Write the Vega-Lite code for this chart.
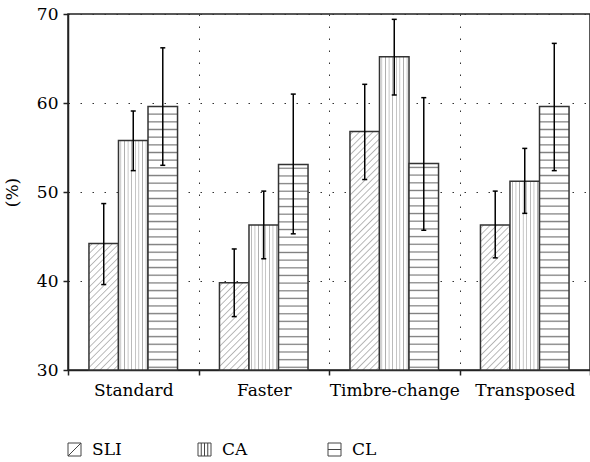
{
  "$schema": "https://vega.github.io/schema/vega-lite/v6.json",
  "width": 522,
  "height": 356,
  "autosize": {"type": "none"},
  "padding": {"left": 68, "top": 14, "right": 0, "bottom": 92},
  "config": {
    "view": {"stroke": "#222", "strokeWidth": 1.5},
    "font": "DejaVu Serif"
  },
  "data": {
    "values": [
      {"cond": "Standard", "group": "SLI", "mean": 44.2, "lo": 39.6, "hi": 48.7},
      {"cond": "Standard", "group": "CA", "mean": 55.8, "lo": 52.4, "hi": 59.1},
      {"cond": "Standard", "group": "CL", "mean": 59.6, "lo": 53.0, "hi": 66.2},
      {"cond": "Faster", "group": "SLI", "mean": 39.8, "lo": 36.0, "hi": 43.6},
      {"cond": "Faster", "group": "CA", "mean": 46.3, "lo": 42.5, "hi": 50.1},
      {"cond": "Faster", "group": "CL", "mean": 53.1, "lo": 45.3, "hi": 61.0},
      {"cond": "Timbre-change", "group": "SLI", "mean": 56.8, "lo": 51.4, "hi": 62.1},
      {"cond": "Timbre-change", "group": "CA", "mean": 65.2, "lo": 60.9, "hi": 69.4},
      {"cond": "Timbre-change", "group": "CL", "mean": 53.2, "lo": 45.7, "hi": 60.6},
      {"cond": "Transposed", "group": "SLI", "mean": 46.3, "lo": 42.6, "hi": 50.1},
      {"cond": "Transposed", "group": "CA", "mean": 51.2, "lo": 47.6, "hi": 54.9},
      {"cond": "Transposed", "group": "CL", "mean": 59.6, "lo": 52.4, "hi": 66.7}
    ]
  },
  "encoding": {
    "x": {
      "field": "cond",
      "type": "nominal",
      "sort": ["Standard", "Faster", "Timbre-change", "Transposed"],
      "scale": {"paddingInner": 0, "paddingOuter": 0},
      "axis": {
        "title": null,
        "labelAngle": 0,
        "tickBand": "extent",
        "labelFont": "DejaVu Serif",
        "labelFontSize": 17,
        "labelColor": "black",
        "labelPadding": 7,
        "tickSize": 5,
        "tickColor": "#222",
        "tickWidth": 1.5,
        "domainColor": "#222",
        "domainWidth": 1.5,
        "grid": true,
        "gridColor": "#333",
        "gridDash": [1.5, 10.5],
        "gridWidth": 1
      }
    },
    "xOffset": {
      "field": "group",
      "type": "nominal",
      "scale": {"domain": ["SLI", "CA", "CL"], "paddingOuter": 0.71, "paddingInner": 0}
    }
  },
  "layer": [
    {
      "mark": {"type": "bar", "stroke": "#333", "strokeWidth": 1.5},
      "encoding": {
        "y": {
          "field": "mean",
          "type": "quantitative",
          "scale": {"domain": [30, 70], "nice": false, "zero": false},
          "axis": {
            "values": [30, 40, 50, 60, 70],
            "title": "(%)",
            "titleFont": "DejaVu Serif",
            "titleFontSize": 17,
            "titleFontWeight": "normal",
            "titleColor": "black",
            "titlePadding": 15,
            "labelFont": "DejaVu Serif",
            "labelFontSize": 17,
            "labelColor": "black",
            "labelPadding": 5,
            "tickSize": 5,
            "tickColor": "#222",
            "tickWidth": 1.5,
            "domainColor": "#222",
            "domainWidth": 1.5,
            "grid": true,
            "gridColor": "#333",
            "gridDash": [1.5, 10.5],
            "gridWidth": 1
          }
        },
        "y2": {"datum": 30},
        "fill": {
          "field": "group",
          "type": "nominal",
          "scale": {"domain": ["SLI", "CA", "CL"], "range": ["white", "white", "white"]},
          "legend": {
            "orient": "none",
            "legendX": -2,
            "legendY": 427,
            "direction": "horizontal",
            "columns": 3,
            "gridAlign": "all",
            "columnPadding": 74,
            "padding": 0,
            "title": null,
            "symbolType": "square",
            "symbolSize": 169,
            "symbolStrokeColor": "#444",
            "symbolStrokeWidth": 1,
            "symbolOpacity": 1,
            "labelFont": "DejaVu Serif",
            "labelFontSize": 17,
            "labelColor": "black",
            "labelOffset": 9,
            "encode": {
              "symbols": {
                "update": {
                  "shape": {"signal": "datum.value === 'SLI' ? 'M-1,-1H1V1H-1Z M-1,1L1,-1' : datum.value === 'CA' ? 'M-1,-1H1V1H-1Z M-0.5,-1V1 M0,-1V1 M0.5,-1V1' : 'M-1,-1H1V1H-1Z M-1,0H1'"},
                  "size": {"value": 169},
                  "stroke": {"value": "#444"},
                  "strokeWidth": {"value": 1},
                  "opacity": {"value": 1}
                }
              }
            }
          },
          "condition": [
            {"test": "datum.group === 'CA'", "value": {"gradient": "linear", "x1": 0, "y1": 0, "x2": 1, "y2": 0, "stops": [
              {"offset": 0.055, "color": "white"}, {"offset": 0.08, "color": "#a8a8a8"}, {"offset": 0.105, "color": "white"},
              {"offset": 0.177, "color": "white"}, {"offset": 0.202, "color": "#a8a8a8"}, {"offset": 0.227, "color": "white"},
              {"offset": 0.299, "color": "white"}, {"offset": 0.324, "color": "#a8a8a8"}, {"offset": 0.349, "color": "white"},
              {"offset": 0.421, "color": "white"}, {"offset": 0.446, "color": "#a8a8a8"}, {"offset": 0.471, "color": "white"},
              {"offset": 0.543, "color": "white"}, {"offset": 0.568, "color": "#a8a8a8"}, {"offset": 0.593, "color": "white"},
              {"offset": 0.665, "color": "white"}, {"offset": 0.69, "color": "#a8a8a8"}, {"offset": 0.715, "color": "white"},
              {"offset": 0.787, "color": "white"}, {"offset": 0.812, "color": "#a8a8a8"}, {"offset": 0.837, "color": "white"},
              {"offset": 0.909, "color": "white"}, {"offset": 0.934, "color": "#a8a8a8"}, {"offset": 0.959, "color": "white"}]}},
            {"test": "datum.group === 'CL' && datum.mean > 56", "value": {"gradient": "linear", "x1": 0, "y1": 0, "x2": 0, "y2": 1, "stops": [
              {"offset": 0.0238, "color": "white"}, {"offset": 0.0288, "color": "#808080"}, {"offset": 0.0338, "color": "white"},
              {"offset": 0.0529, "color": "white"}, {"offset": 0.0579, "color": "#808080"}, {"offset": 0.0629, "color": "white"},
              {"offset": 0.0820, "color": "white"}, {"offset": 0.0870, "color": "#808080"}, {"offset": 0.0920, "color": "white"},
              {"offset": 0.1112, "color": "white"}, {"offset": 0.1162, "color": "#808080"}, {"offset": 0.1212, "color": "white"},
              {"offset": 0.1403, "color": "white"}, {"offset": 0.1453, "color": "#808080"}, {"offset": 0.1503, "color": "white"},
              {"offset": 0.1694, "color": "white"}, {"offset": 0.1744, "color": "#808080"}, {"offset": 0.1794, "color": "white"},
              {"offset": 0.1985, "color": "white"}, {"offset": 0.2035, "color": "#808080"}, {"offset": 0.2085, "color": "white"},
              {"offset": 0.2276, "color": "white"}, {"offset": 0.2326, "color": "#808080"}, {"offset": 0.2376, "color": "white"},
              {"offset": 0.2568, "color": "white"}, {"offset": 0.2618, "color": "#808080"}, {"offset": 0.2668, "color": "white"},
              {"offset": 0.2859, "color": "white"}, {"offset": 0.2909, "color": "#808080"}, {"offset": 0.2959, "color": "white"},
              {"offset": 0.3150, "color": "white"}, {"offset": 0.3200, "color": "#808080"}, {"offset": 0.3250, "color": "white"},
              {"offset": 0.3441, "color": "white"}, {"offset": 0.3491, "color": "#808080"}, {"offset": 0.3541, "color": "white"},
              {"offset": 0.3732, "color": "white"}, {"offset": 0.3782, "color": "#808080"}, {"offset": 0.3832, "color": "white"},
              {"offset": 0.4024, "color": "white"}, {"offset": 0.4074, "color": "#808080"}, {"offset": 0.4124, "color": "white"},
              {"offset": 0.4315, "color": "white"}, {"offset": 0.4365, "color": "#808080"}, {"offset": 0.4415, "color": "white"},
              {"offset": 0.4606, "color": "white"}, {"offset": 0.4656, "color": "#808080"}, {"offset": 0.4706, "color": "white"},
              {"offset": 0.4897, "color": "white"}, {"offset": 0.4947, "color": "#808080"}, {"offset": 0.4997, "color": "white"},
              {"offset": 0.5188, "color": "white"}, {"offset": 0.5238, "color": "#808080"}, {"offset": 0.5288, "color": "white"},
              {"offset": 0.5480, "color": "white"}, {"offset": 0.5530, "color": "#808080"}, {"offset": 0.5580, "color": "white"},
              {"offset": 0.5771, "color": "white"}, {"offset": 0.5821, "color": "#808080"}, {"offset": 0.5871, "color": "white"},
              {"offset": 0.6062, "color": "white"}, {"offset": 0.6112, "color": "#808080"}, {"offset": 0.6162, "color": "white"},
              {"offset": 0.6353, "color": "white"}, {"offset": 0.6403, "color": "#808080"}, {"offset": 0.6453, "color": "white"},
              {"offset": 0.6644, "color": "white"}, {"offset": 0.6694, "color": "#808080"}, {"offset": 0.6744, "color": "white"},
              {"offset": 0.6936, "color": "white"}, {"offset": 0.6986, "color": "#808080"}, {"offset": 0.7036, "color": "white"},
              {"offset": 0.7227, "color": "white"}, {"offset": 0.7277, "color": "#808080"}, {"offset": 0.7327, "color": "white"},
              {"offset": 0.7518, "color": "white"}, {"offset": 0.7568, "color": "#808080"}, {"offset": 0.7618, "color": "white"},
              {"offset": 0.7809, "color": "white"}, {"offset": 0.7859, "color": "#808080"}, {"offset": 0.7909, "color": "white"},
              {"offset": 0.8100, "color": "white"}, {"offset": 0.8150, "color": "#808080"}, {"offset": 0.8200, "color": "white"},
              {"offset": 0.8392, "color": "white"}, {"offset": 0.8442, "color": "#808080"}, {"offset": 0.8492, "color": "white"},
              {"offset": 0.8683, "color": "white"}, {"offset": 0.8733, "color": "#808080"}, {"offset": 0.8783, "color": "white"},
              {"offset": 0.8974, "color": "white"}, {"offset": 0.9024, "color": "#808080"}, {"offset": 0.9074, "color": "white"},
              {"offset": 0.9265, "color": "white"}, {"offset": 0.9315, "color": "#808080"}, {"offset": 0.9365, "color": "white"},
              {"offset": 0.9556, "color": "white"}, {"offset": 0.9606, "color": "#808080"}, {"offset": 0.9656, "color": "white"},
              {"offset": 0.9848, "color": "white"}, {"offset": 0.9898, "color": "#808080"}, {"offset": 0.9948, "color": "white"}]}},
            {"test": "datum.group === 'CL'", "value": {"gradient": "linear", "x1": 0, "y1": 0, "x2": 0, "y2": 1, "stops": [
              {"offset": 0.0129, "color": "white"}, {"offset": 0.0189, "color": "#808080"}, {"offset": 0.0249, "color": "white"},
              {"offset": 0.0501, "color": "white"}, {"offset": 0.0561, "color": "#808080"}, {"offset": 0.0621, "color": "white"},
              {"offset": 0.0874, "color": "white"}, {"offset": 0.0934, "color": "#808080"}, {"offset": 0.0994, "color": "white"},
              {"offset": 0.1246, "color": "white"}, {"offset": 0.1306, "color": "#808080"}, {"offset": 0.1366, "color": "white"},
              {"offset": 0.1618, "color": "white"}, {"offset": 0.1678, "color": "#808080"}, {"offset": 0.1738, "color": "white"},
              {"offset": 0.1991, "color": "white"}, {"offset": 0.2051, "color": "#808080"}, {"offset": 0.2111, "color": "white"},
              {"offset": 0.2363, "color": "white"}, {"offset": 0.2423, "color": "#808080"}, {"offset": 0.2483, "color": "white"},
              {"offset": 0.2735, "color": "white"}, {"offset": 0.2795, "color": "#808080"}, {"offset": 0.2855, "color": "white"},
              {"offset": 0.3107, "color": "white"}, {"offset": 0.3167, "color": "#808080"}, {"offset": 0.3227, "color": "white"},
              {"offset": 0.3480, "color": "white"}, {"offset": 0.3540, "color": "#808080"}, {"offset": 0.3600, "color": "white"},
              {"offset": 0.3852, "color": "white"}, {"offset": 0.3912, "color": "#808080"}, {"offset": 0.3972, "color": "white"},
              {"offset": 0.4224, "color": "white"}, {"offset": 0.4284, "color": "#808080"}, {"offset": 0.4344, "color": "white"},
              {"offset": 0.4597, "color": "white"}, {"offset": 0.4657, "color": "#808080"}, {"offset": 0.4717, "color": "white"},
              {"offset": 0.4969, "color": "white"}, {"offset": 0.5029, "color": "#808080"}, {"offset": 0.5089, "color": "white"},
              {"offset": 0.5341, "color": "white"}, {"offset": 0.5401, "color": "#808080"}, {"offset": 0.5461, "color": "white"},
              {"offset": 0.5714, "color": "white"}, {"offset": 0.5774, "color": "#808080"}, {"offset": 0.5834, "color": "white"},
              {"offset": 0.6086, "color": "white"}, {"offset": 0.6146, "color": "#808080"}, {"offset": 0.6206, "color": "white"},
              {"offset": 0.6458, "color": "white"}, {"offset": 0.6518, "color": "#808080"}, {"offset": 0.6578, "color": "white"},
              {"offset": 0.6830, "color": "white"}, {"offset": 0.6890, "color": "#808080"}, {"offset": 0.6950, "color": "white"},
              {"offset": 0.7203, "color": "white"}, {"offset": 0.7263, "color": "#808080"}, {"offset": 0.7323, "color": "white"},
              {"offset": 0.7575, "color": "white"}, {"offset": 0.7635, "color": "#808080"}, {"offset": 0.7695, "color": "white"},
              {"offset": 0.7947, "color": "white"}, {"offset": 0.8007, "color": "#808080"}, {"offset": 0.8067, "color": "white"},
              {"offset": 0.8320, "color": "white"}, {"offset": 0.8380, "color": "#808080"}, {"offset": 0.8440, "color": "white"},
              {"offset": 0.8692, "color": "white"}, {"offset": 0.8752, "color": "#808080"}, {"offset": 0.8812, "color": "white"},
              {"offset": 0.9064, "color": "white"}, {"offset": 0.9124, "color": "#808080"}, {"offset": 0.9184, "color": "white"},
              {"offset": 0.9437, "color": "white"}, {"offset": 0.9497, "color": "#808080"}, {"offset": 0.9557, "color": "white"},
              {"offset": 0.9809, "color": "white"}, {"offset": 0.9869, "color": "#808080"}, {"offset": 0.9929, "color": "white"}]}},
            {"test": "datum.cond === 'Standard'", "value": {"gradient": "linear", "x1": 0, "y1": 0, "x2": 0.2732, "y2": 1.1696, "stops": [
              {"offset": 0.0135, "color": "white"}, {"offset": 0.0215, "color": "#b4b4b4"}, {"offset": 0.0295, "color": "white"},
              {"offset": 0.0565, "color": "white"}, {"offset": 0.0645, "color": "#b4b4b4"}, {"offset": 0.0725, "color": "white"},
              {"offset": 0.0995, "color": "white"}, {"offset": 0.1075, "color": "#b4b4b4"}, {"offset": 0.1155, "color": "white"},
              {"offset": 0.1424, "color": "white"}, {"offset": 0.1504, "color": "#b4b4b4"}, {"offset": 0.1584, "color": "white"},
              {"offset": 0.1854, "color": "white"}, {"offset": 0.1934, "color": "#b4b4b4"}, {"offset": 0.2014, "color": "white"},
              {"offset": 0.2284, "color": "white"}, {"offset": 0.2364, "color": "#b4b4b4"}, {"offset": 0.2444, "color": "white"},
              {"offset": 0.2714, "color": "white"}, {"offset": 0.2794, "color": "#b4b4b4"}, {"offset": 0.2874, "color": "white"},
              {"offset": 0.3144, "color": "white"}, {"offset": 0.3224, "color": "#b4b4b4"}, {"offset": 0.3304, "color": "white"},
              {"offset": 0.3573, "color": "white"}, {"offset": 0.3653, "color": "#b4b4b4"}, {"offset": 0.3733, "color": "white"},
              {"offset": 0.4003, "color": "white"}, {"offset": 0.4083, "color": "#b4b4b4"}, {"offset": 0.4163, "color": "white"},
              {"offset": 0.4433, "color": "white"}, {"offset": 0.4513, "color": "#b4b4b4"}, {"offset": 0.4593, "color": "white"},
              {"offset": 0.4863, "color": "white"}, {"offset": 0.4943, "color": "#b4b4b4"}, {"offset": 0.5023, "color": "white"},
              {"offset": 0.5293, "color": "white"}, {"offset": 0.5373, "color": "#b4b4b4"}, {"offset": 0.5453, "color": "white"},
              {"offset": 0.5722, "color": "white"}, {"offset": 0.5802, "color": "#b4b4b4"}, {"offset": 0.5882, "color": "white"},
              {"offset": 0.6152, "color": "white"}, {"offset": 0.6232, "color": "#b4b4b4"}, {"offset": 0.6312, "color": "white"},
              {"offset": 0.6582, "color": "white"}, {"offset": 0.6662, "color": "#b4b4b4"}, {"offset": 0.6742, "color": "white"},
              {"offset": 0.7012, "color": "white"}, {"offset": 0.7092, "color": "#b4b4b4"}, {"offset": 0.7172, "color": "white"},
              {"offset": 0.7442, "color": "white"}, {"offset": 0.7522, "color": "#b4b4b4"}, {"offset": 0.7602, "color": "white"},
              {"offset": 0.7871, "color": "white"}, {"offset": 0.7951, "color": "#b4b4b4"}, {"offset": 0.8031, "color": "white"},
              {"offset": 0.8301, "color": "white"}, {"offset": 0.8381, "color": "#b4b4b4"}, {"offset": 0.8461, "color": "white"},
              {"offset": 0.8731, "color": "white"}, {"offset": 0.8811, "color": "#b4b4b4"}, {"offset": 0.8891, "color": "white"},
              {"offset": 0.9161, "color": "white"}, {"offset": 0.9241, "color": "#b4b4b4"}, {"offset": 0.9321, "color": "white"},
              {"offset": 0.9591, "color": "white"}, {"offset": 0.9671, "color": "#b4b4b4"}, {"offset": 0.9751, "color": "white"}]}},
            {"test": "datum.cond === 'Faster'", "value": {"gradient": "linear", "x1": 0, "y1": 0, "x2": 0.4065, "y2": 1.2007, "stops": [
              {"offset": 0.0177, "color": "white"}, {"offset": 0.0287, "color": "#b4b4b4"}, {"offset": 0.0397, "color": "white"},
              {"offset": 0.0751, "color": "white"}, {"offset": 0.0861, "color": "#b4b4b4"}, {"offset": 0.0971, "color": "white"},
              {"offset": 0.1325, "color": "white"}, {"offset": 0.1435, "color": "#b4b4b4"}, {"offset": 0.1545, "color": "white"},
              {"offset": 0.1899, "color": "white"}, {"offset": 0.2009, "color": "#b4b4b4"}, {"offset": 0.2119, "color": "white"},
              {"offset": 0.2473, "color": "white"}, {"offset": 0.2583, "color": "#b4b4b4"}, {"offset": 0.2693, "color": "white"},
              {"offset": 0.3048, "color": "white"}, {"offset": 0.3158, "color": "#b4b4b4"}, {"offset": 0.3268, "color": "white"},
              {"offset": 0.3622, "color": "white"}, {"offset": 0.3732, "color": "#b4b4b4"}, {"offset": 0.3842, "color": "white"},
              {"offset": 0.4196, "color": "white"}, {"offset": 0.4306, "color": "#b4b4b4"}, {"offset": 0.4416, "color": "white"},
              {"offset": 0.4770, "color": "white"}, {"offset": 0.4880, "color": "#b4b4b4"}, {"offset": 0.4990, "color": "white"},
              {"offset": 0.5344, "color": "white"}, {"offset": 0.5454, "color": "#b4b4b4"}, {"offset": 0.5564, "color": "white"},
              {"offset": 0.5918, "color": "white"}, {"offset": 0.6028, "color": "#b4b4b4"}, {"offset": 0.6138, "color": "white"},
              {"offset": 0.6492, "color": "white"}, {"offset": 0.6602, "color": "#b4b4b4"}, {"offset": 0.6712, "color": "white"},
              {"offset": 0.7066, "color": "white"}, {"offset": 0.7176, "color": "#b4b4b4"}, {"offset": 0.7286, "color": "white"},
              {"offset": 0.7640, "color": "white"}, {"offset": 0.7750, "color": "#b4b4b4"}, {"offset": 0.7860, "color": "white"},
              {"offset": 0.8214, "color": "white"}, {"offset": 0.8324, "color": "#b4b4b4"}, {"offset": 0.8434, "color": "white"},
              {"offset": 0.8789, "color": "white"}, {"offset": 0.8899, "color": "#b4b4b4"}, {"offset": 0.9009, "color": "white"},
              {"offset": 0.9363, "color": "white"}, {"offset": 0.9473, "color": "#b4b4b4"}, {"offset": 0.9583, "color": "white"}]}},
            {"test": "datum.cond === 'Timbre-change'", "value": {"gradient": "linear", "x1": 0, "y1": 0, "x2": 0.137, "y2": 1.1067, "stops": [
              {"offset": 0.0075, "color": "white"}, {"offset": 0.0125, "color": "#b4b4b4"}, {"offset": 0.0175, "color": "white"},
              {"offset": 0.0325, "color": "white"}, {"offset": 0.0375, "color": "#b4b4b4"}, {"offset": 0.0425, "color": "white"},
              {"offset": 0.0575, "color": "white"}, {"offset": 0.0625, "color": "#b4b4b4"}, {"offset": 0.0675, "color": "white"},
              {"offset": 0.0825, "color": "white"}, {"offset": 0.0875, "color": "#b4b4b4"}, {"offset": 0.0925, "color": "white"},
              {"offset": 0.1075, "color": "white"}, {"offset": 0.1125, "color": "#b4b4b4"}, {"offset": 0.1175, "color": "white"},
              {"offset": 0.1325, "color": "white"}, {"offset": 0.1375, "color": "#b4b4b4"}, {"offset": 0.1425, "color": "white"},
              {"offset": 0.1575, "color": "white"}, {"offset": 0.1625, "color": "#b4b4b4"}, {"offset": 0.1675, "color": "white"},
              {"offset": 0.1825, "color": "white"}, {"offset": 0.1875, "color": "#b4b4b4"}, {"offset": 0.1925, "color": "white"},
              {"offset": 0.2075, "color": "white"}, {"offset": 0.2125, "color": "#b4b4b4"}, {"offset": 0.2175, "color": "white"},
              {"offset": 0.2325, "color": "white"}, {"offset": 0.2375, "color": "#b4b4b4"}, {"offset": 0.2425, "color": "white"},
              {"offset": 0.2575, "color": "white"}, {"offset": 0.2625, "color": "#b4b4b4"}, {"offset": 0.2675, "color": "white"},
              {"offset": 0.2825, "color": "white"}, {"offset": 0.2875, "color": "#b4b4b4"}, {"offset": 0.2925, "color": "white"},
              {"offset": 0.3075, "color": "white"}, {"offset": 0.3125, "color": "#b4b4b4"}, {"offset": 0.3175, "color": "white"},
              {"offset": 0.3325, "color": "white"}, {"offset": 0.3375, "color": "#b4b4b4"}, {"offset": 0.3425, "color": "white"},
              {"offset": 0.3575, "color": "white"}, {"offset": 0.3625, "color": "#b4b4b4"}, {"offset": 0.3675, "color": "white"},
              {"offset": 0.3825, "color": "white"}, {"offset": 0.3875, "color": "#b4b4b4"}, {"offset": 0.3925, "color": "white"},
              {"offset": 0.4075, "color": "white"}, {"offset": 0.4125, "color": "#b4b4b4"}, {"offset": 0.4175, "color": "white"},
              {"offset": 0.4325, "color": "white"}, {"offset": 0.4375, "color": "#b4b4b4"}, {"offset": 0.4425, "color": "white"},
              {"offset": 0.4575, "color": "white"}, {"offset": 0.4625, "color": "#b4b4b4"}, {"offset": 0.4675, "color": "white"},
              {"offset": 0.4825, "color": "white"}, {"offset": 0.4875, "color": "#b4b4b4"}, {"offset": 0.4925, "color": "white"},
              {"offset": 0.5075, "color": "white"}, {"offset": 0.5125, "color": "#b4b4b4"}, {"offset": 0.5175, "color": "white"},
              {"offset": 0.5325, "color": "white"}, {"offset": 0.5375, "color": "#b4b4b4"}, {"offset": 0.5425, "color": "white"},
              {"offset": 0.5575, "color": "white"}, {"offset": 0.5625, "color": "#b4b4b4"}, {"offset": 0.5675, "color": "white"},
              {"offset": 0.5825, "color": "white"}, {"offset": 0.5875, "color": "#b4b4b4"}, {"offset": 0.5925, "color": "white"},
              {"offset": 0.6075, "color": "white"}, {"offset": 0.6125, "color": "#b4b4b4"}, {"offset": 0.6175, "color": "white"},
              {"offset": 0.6325, "color": "white"}, {"offset": 0.6375, "color": "#b4b4b4"}, {"offset": 0.6425, "color": "white"},
              {"offset": 0.6575, "color": "white"}, {"offset": 0.6625, "color": "#b4b4b4"}, {"offset": 0.6675, "color": "white"},
              {"offset": 0.6825, "color": "white"}, {"offset": 0.6875, "color": "#b4b4b4"}, {"offset": 0.6925, "color": "white"},
              {"offset": 0.7075, "color": "white"}, {"offset": 0.7125, "color": "#b4b4b4"}, {"offset": 0.7175, "color": "white"},
              {"offset": 0.7325, "color": "white"}, {"offset": 0.7375, "color": "#b4b4b4"}, {"offset": 0.7425, "color": "white"},
              {"offset": 0.7575, "color": "white"}, {"offset": 0.7625, "color": "#b4b4b4"}, {"offset": 0.7675, "color": "white"},
              {"offset": 0.7825, "color": "white"}, {"offset": 0.7875, "color": "#b4b4b4"}, {"offset": 0.7925, "color": "white"},
              {"offset": 0.8075, "color": "white"}, {"offset": 0.8125, "color": "#b4b4b4"}, {"offset": 0.8175, "color": "white"},
              {"offset": 0.8325, "color": "white"}, {"offset": 0.8375, "color": "#b4b4b4"}, {"offset": 0.8425, "color": "white"},
              {"offset": 0.8575, "color": "white"}, {"offset": 0.8625, "color": "#b4b4b4"}, {"offset": 0.8675, "color": "white"},
              {"offset": 0.8825, "color": "white"}, {"offset": 0.8875, "color": "#b4b4b4"}, {"offset": 0.8925, "color": "white"},
              {"offset": 0.9075, "color": "white"}, {"offset": 0.9125, "color": "#b4b4b4"}, {"offset": 0.9175, "color": "white"},
              {"offset": 0.9325, "color": "white"}, {"offset": 0.9375, "color": "#b4b4b4"}, {"offset": 0.9425, "color": "white"},
              {"offset": 0.9575, "color": "white"}, {"offset": 0.9625, "color": "#b4b4b4"}, {"offset": 0.9675, "color": "white"},
              {"offset": 0.9825, "color": "white"}, {"offset": 0.9875, "color": "#b4b4b4"}, {"offset": 0.9925, "color": "white"}]}},
            {"test": "datum.cond === 'Transposed'", "value": {"gradient": "linear", "x1": 0, "y1": 0, "x2": 0.2351, "y2": 1.1555, "stops": [
              {"offset": 0.0117, "color": "white"}, {"offset": 0.0192, "color": "#b4b4b4"}, {"offset": 0.0267, "color": "white"},
              {"offset": 0.0501, "color": "white"}, {"offset": 0.0576, "color": "#b4b4b4"}, {"offset": 0.0651, "color": "white"},
              {"offset": 0.0884, "color": "white"}, {"offset": 0.0959, "color": "#b4b4b4"}, {"offset": 0.1034, "color": "white"},
              {"offset": 0.1268, "color": "white"}, {"offset": 0.1343, "color": "#b4b4b4"}, {"offset": 0.1418, "color": "white"},
              {"offset": 0.1652, "color": "white"}, {"offset": 0.1727, "color": "#b4b4b4"}, {"offset": 0.1802, "color": "white"},
              {"offset": 0.2036, "color": "white"}, {"offset": 0.2111, "color": "#b4b4b4"}, {"offset": 0.2186, "color": "white"},
              {"offset": 0.2419, "color": "white"}, {"offset": 0.2494, "color": "#b4b4b4"}, {"offset": 0.2569, "color": "white"},
              {"offset": 0.2803, "color": "white"}, {"offset": 0.2878, "color": "#b4b4b4"}, {"offset": 0.2953, "color": "white"},
              {"offset": 0.3187, "color": "white"}, {"offset": 0.3262, "color": "#b4b4b4"}, {"offset": 0.3337, "color": "white"},
              {"offset": 0.3570, "color": "white"}, {"offset": 0.3645, "color": "#b4b4b4"}, {"offset": 0.3720, "color": "white"},
              {"offset": 0.3954, "color": "white"}, {"offset": 0.4029, "color": "#b4b4b4"}, {"offset": 0.4104, "color": "white"},
              {"offset": 0.4338, "color": "white"}, {"offset": 0.4413, "color": "#b4b4b4"}, {"offset": 0.4488, "color": "white"},
              {"offset": 0.4721, "color": "white"}, {"offset": 0.4796, "color": "#b4b4b4"}, {"offset": 0.4871, "color": "white"},
              {"offset": 0.5105, "color": "white"}, {"offset": 0.5180, "color": "#b4b4b4"}, {"offset": 0.5255, "color": "white"},
              {"offset": 0.5489, "color": "white"}, {"offset": 0.5564, "color": "#b4b4b4"}, {"offset": 0.5639, "color": "white"},
              {"offset": 0.5872, "color": "white"}, {"offset": 0.5947, "color": "#b4b4b4"}, {"offset": 0.6022, "color": "white"},
              {"offset": 0.6256, "color": "white"}, {"offset": 0.6331, "color": "#b4b4b4"}, {"offset": 0.6406, "color": "white"},
              {"offset": 0.6640, "color": "white"}, {"offset": 0.6715, "color": "#b4b4b4"}, {"offset": 0.6790, "color": "white"},
              {"offset": 0.7024, "color": "white"}, {"offset": 0.7099, "color": "#b4b4b4"}, {"offset": 0.7174, "color": "white"},
              {"offset": 0.7407, "color": "white"}, {"offset": 0.7482, "color": "#b4b4b4"}, {"offset": 0.7557, "color": "white"},
              {"offset": 0.7791, "color": "white"}, {"offset": 0.7866, "color": "#b4b4b4"}, {"offset": 0.7941, "color": "white"},
              {"offset": 0.8175, "color": "white"}, {"offset": 0.8250, "color": "#b4b4b4"}, {"offset": 0.8325, "color": "white"},
              {"offset": 0.8558, "color": "white"}, {"offset": 0.8633, "color": "#b4b4b4"}, {"offset": 0.8708, "color": "white"},
              {"offset": 0.8942, "color": "white"}, {"offset": 0.9017, "color": "#b4b4b4"}, {"offset": 0.9092, "color": "white"},
              {"offset": 0.9326, "color": "white"}, {"offset": 0.9401, "color": "#b4b4b4"}, {"offset": 0.9476, "color": "white"},
              {"offset": 0.9710, "color": "white"}, {"offset": 0.9785, "color": "#b4b4b4"}, {"offset": 0.9860, "color": "white"}]}}
          ]
        }
      }
    },
    {
      "mark": {"type": "rule", "color": "black", "strokeWidth": 1.5},
      "encoding": {
        "y": {"field": "lo", "type": "quantitative"},
        "y2": {"field": "hi"}
      }
    },
    {
      "mark": {"type": "tick", "color": "black", "thickness": 1.5, "size": 5, "opacity": 1},
      "encoding": {"y": {"field": "hi", "type": "quantitative"}}
    },
    {
      "mark": {"type": "tick", "color": "black", "thickness": 1.5, "size": 5, "opacity": 1},
      "encoding": {"y": {"field": "lo", "type": "quantitative"}}
    }
  ]
}
